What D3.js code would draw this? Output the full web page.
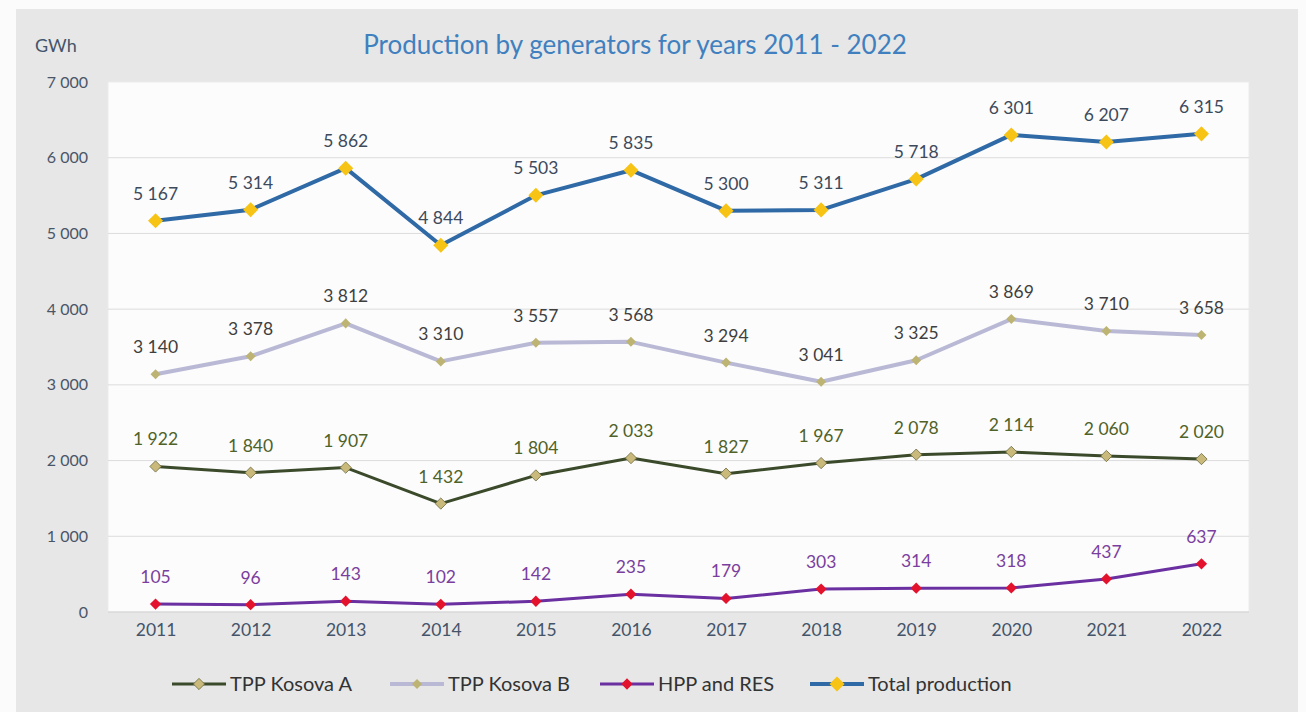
<!DOCTYPE html>
<html>
<head>
<meta charset="utf-8">
<script src="https://cdn.jsdelivr.net/npm/d3@7"></script>
<style>
  body { margin: 0; background: #fbfbfb; }
  text { font-family: Lato, "Open Sans", sans-serif; }
</style>
</head>
<body>
<div id="holder"></div>
<script>
const w = 1306;
const h = 712;

// Data
const years = [2011, 2012, 2013, 2014, 2015, 2016, 2017, 2018, 2019, 2020, 2021, 2022];
const tppA = [1922, 1840, 1907, 1432, 1804, 2033, 1827, 1967, 2078, 2114, 2060, 2020];
const tppB = [3140, 3378, 3812, 3310, 3557, 3568, 3294, 3041, 3325, 3869, 3710, 3658];
const hppRes = [105, 96, 143, 102, 142, 235, 179, 303, 314, 318, 437, 637];
const total = [5167, 5314, 5862, 4844, 5503, 5835, 5300, 5311, 5718, 6301, 6207, 6315];
const yTicks = [0, 1000, 2000, 3000, 4000, 5000, 6000, 7000];
const seriesNames = ["TPP Kosova A", "TPP Kosova B", "HPP and RES", "Total production"];

const series = [
    { name: seriesNames[0], values: tppA, line: "#3b4a2a", width: 3, marker: "#c9b97a", stroke: "#6b6a3e", size: 9, label: "#4f6228" },
    { name: seriesNames[1], values: tppB, line: "#b9b9d6", width: 4, marker: "#bdb473", stroke: "none", size: 8, label: "#3f3f3f" },
    { name: seriesNames[2], values: hppRes, line: "#6a2fa0", width: 3, marker: "#e3122d", stroke: "none", size: 9, label: "#7a3f9e" },
    { name: seriesNames[3], values: total, line: "#2f6aa6", width: 4, marker: "#f7c315", stroke: "none", size: 12, label: "#3d4a5c" }
];

const fmt = v => d3.format(",")(v).replace(",", " ");

const svg = d3.select("#holder")
    .append("svg")
    .attr("width", w)
    .attr("height", h)

// gray panel
svg.append("rect")
    .attr("x", 16).attr("y", 9)
    .attr("width", 1282).attr("height", h - 9)
    .attr("fill", "#e7e7e7")

const plot = { left: 108, right: 1249, top: 82, bottom: 612 };

svg.append("rect")
    .attr("x", plot.left).attr("y", plot.top)
    .attr("width", plot.right - plot.left).attr("height", plot.bottom - plot.top)
    .attr("fill", "#fcfcfc")
    .attr("stroke", "#ececec")

const x = d3.scalePoint()
    .domain(years)
    .range([plot.left, plot.right])
    .padding(0.5)

const y = d3.scaleLinear()
    .domain([0, 7000])
    .range([plot.bottom, plot.top])

// gridlines
svg.append("g")
    .selectAll("line")
    .data(yTicks.slice(0, -1))
    .join("line")
    .attr("x1", plot.left).attr("x2", plot.right)
    .attr("y1", d => y(d)).attr("y2", d => y(d))
    .attr("stroke", d => d === 0 ? "#d0d0d0" : "#dcdcdc")
    .attr("stroke-width", 1)

// Y axis
const yAxis = d3.axisLeft(y).tickValues(yTicks).tickSize(0).tickPadding(20).tickFormat(fmt)
svg.append("g")
    .attr("transform", `translate(${plot.left},0)`)
    .call(yAxis)
    .call(g => g.select(".domain").remove())
    .selectAll("text")
    .attr("font-size", 16)
    .attr("fill", "#4a5668")
    .style("font-family", "Lato, sans-serif")

// X axis
const xAxis = d3.axisBottom(x).tickSize(0).tickPadding(12)
svg.append("g")
    .attr("transform", `translate(0,${plot.bottom})`)
    .call(xAxis)
    .call(g => g.select(".domain").remove())
    .selectAll("text")
    .attr("font-size", 17.5)
    .attr("fill", "#44546a")
    .style("font-family", "Lato, sans-serif")

// Title and unit
svg.append("text")
    .attr("x", 635).attr("y", 54)
    .attr("text-anchor", "middle")
    .attr("font-size", 26)
    .attr("fill", "#4080bf")
    .text("Production by generators for years 2011 - 2022")

svg.append("text")
    .attr("x", 35).attr("y", 52)
    .attr("font-size", 18)
    .attr("fill", "#44546a")
    .text("GWh")

const line = d3.line()
    .x((d, i) => x(years[i]))
    .y(d => y(d))

const diamond = d3.symbol().type(d3.symbolDiamond2)

series.forEach(s => {
    const g = svg.append("g")
    g.append("path")
        .datum(s.values)
        .attr("d", line)
        .attr("fill", "none")
        .attr("stroke", s.line)
        .attr("stroke-width", s.width)
        .attr("stroke-linejoin", "round")

    g.selectAll("path.marker")
        .data(s.values)
        .join("path")
        .attr("class", "marker")
        .attr("d", diamond.size(s.size * s.size))
        .attr("transform", (d, i) => `translate(${x(years[i])},${y(d)})`)
        .attr("fill", s.marker)
        .attr("stroke", s.stroke)
        .attr("stroke-width", 0.8)

    g.selectAll("text")
        .data(s.values)
        .join("text")
        .attr("x", (d, i) => x(years[i]))
        .attr("y", d => y(d) - 21)
        .attr("text-anchor", "middle")
        .attr("font-size", 17.5)
        .attr("fill", s.label)
        .text(d => fmt(d))
})

// Legend
const legendX = [172, 390, 600, 810];
const legend = svg.append("g")
    .selectAll("g")
    .data(series)
    .join("g")
    .attr("transform", (d, i) => `translate(${legendX[i]},684)`)

legend.append("line")
    .attr("x1", 0).attr("x2", 54)
    .attr("stroke", d => d.line)
    .attr("stroke-width", d => d.width)

legend.append("path")
    .attr("d", d => diamond.size(d.size * d.size)())
    .attr("transform", "translate(27,0)")
    .attr("fill", d => d.marker)
    .attr("stroke", d => d.stroke)
    .attr("stroke-width", 0.8)

legend.append("text")
    .attr("x", 58).attr("y", 7)
    .attr("font-size", 20)
    .attr("fill", "#333")
    .text(d => d.name)
</script>
</body>
</html>
